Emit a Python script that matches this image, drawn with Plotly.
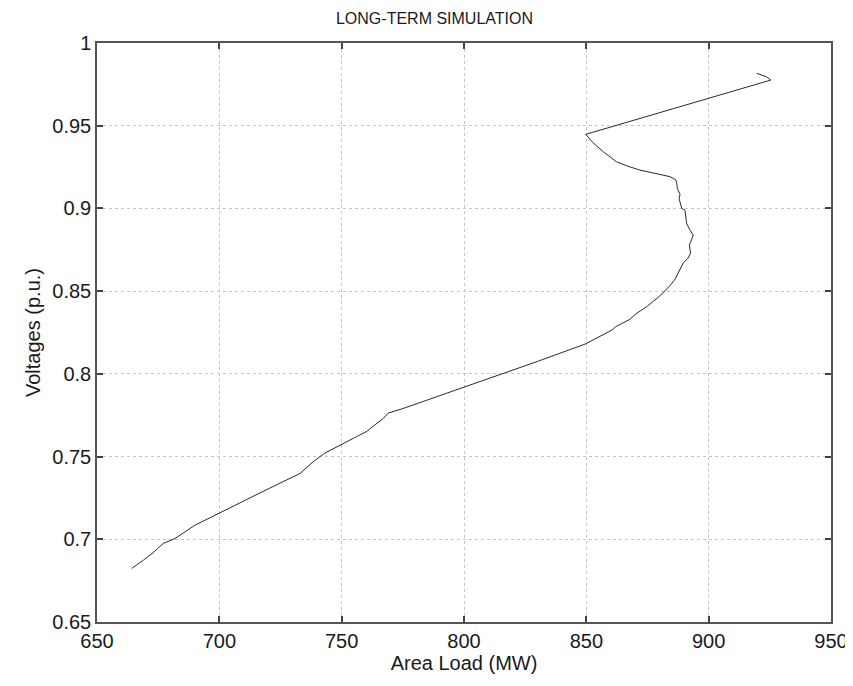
import plotly.graph_objects as go

# Area load (MW) and voltage (p.u.) along the simulated trajectory
load_mw = [919.6, 923.6, 925.4, 849.8, 852.5, 856.9, 862.3, 867.0, 871.9, 878.7,
           884.2, 886.6, 887.0, 887.2, 888.3, 887.9, 889.0, 890.3, 890.6, 891.0,
           892.3, 893.7, 893.0, 892.1, 892.6, 891.6, 889.6, 888.2, 886.2, 884.0,
           880.0, 875.0, 870.0, 867.8, 865.0, 862.0, 860.5, 858.0, 856.0, 852.0,
           849.5, 830.0, 810.0, 790.0, 775.0, 769.0, 767.0, 763.0, 760.0, 756.0,
           753.4, 749.3, 743.0, 738.4, 733.0, 720.0, 710.0, 699.9, 690.0, 686.0,
           681.9, 677.1, 673.0, 669.0, 664.2]
voltage_pu = [0.9817, 0.9796, 0.9776, 0.9448, 0.9400, 0.9343, 0.9282, 0.9255, 0.9232, 0.9212,
              0.9192, 0.9172, 0.9150, 0.9121, 0.9085, 0.9060, 0.9000, 0.8990, 0.8950, 0.8910,
              0.8870, 0.8840, 0.8810, 0.8780, 0.8730, 0.8700, 0.8670, 0.8630, 0.8570, 0.8530,
              0.8470, 0.8410, 0.8360, 0.8330, 0.8310, 0.8285, 0.8265, 0.8245, 0.8230, 0.8195,
              0.8180, 0.8075, 0.7970, 0.7865, 0.7790, 0.7763, 0.7730, 0.7685, 0.7650, 0.7620,
              0.7600, 0.7570, 0.7520, 0.7469, 0.7398, 0.7305, 0.7230, 0.7156, 0.7085, 0.7045,
              0.7005, 0.6975, 0.6920, 0.6874, 0.6824]

x_ticks = [650, 700, 750, 800, 850, 900, 950]
y_ticks = [0.65, 0.7, 0.75, 0.8, 0.85, 0.9, 0.95, 1]
y_tick_text = ["0.65", "0.7", "0.75", "0.8", "0.85", "0.9", "0.95", "1"]

fig = go.Figure()
fig.add_trace(go.Scatter(x=load_mw, y=voltage_pu, mode="lines",
                         line=dict(color="#2a2a2a", width=1), showlegend=False))

font = "Liberation Sans, Arial, sans-serif"
axis_common = dict(
    showline=True, linecolor="#555555", linewidth=1.5, mirror="ticks",
    ticks="inside", ticklen=6, tickcolor="#444444", tickwidth=1.5,
    showgrid=True, gridcolor="#c4c4c4", griddash="dot", gridwidth=1,
    zeroline=False, tickfont=dict(family=font, size=20, color="#1a1a1a"),
)
fig.update_layout(
    width=853, height=686,
    paper_bgcolor="white", plot_bgcolor="white",
    margin=dict(l=89, r=30, t=35, b=72),
    title=dict(text="LONG-TERM SIMULATION", x=0.5, xanchor="center",
               y=1 - 10 / 686, yanchor="middle",
               font=dict(family=font, size=16, color="#1a1a1a")),
    xaxis=dict(range=[650, 950], tickvals=x_ticks,
               title=dict(text="Area Load (MW)", standoff=2,
                          font=dict(family=font, size=20, color="#1a1a1a")),
               **axis_common),
    yaxis=dict(range=[0.65, 1], tickvals=y_ticks, ticktext=y_tick_text,
               title=dict(text="Voltages (p.u.)", standoff=6,
                          font=dict(family=font, size=20, color="#1a1a1a")),
               **axis_common),
)
fig.write_html("out.html")
